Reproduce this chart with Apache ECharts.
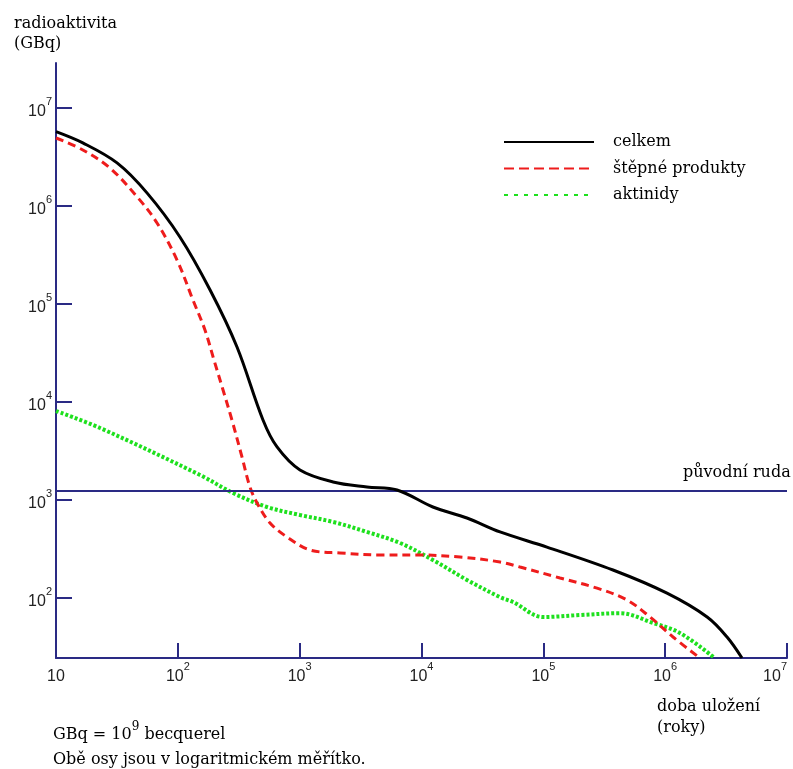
<!DOCTYPE html>
<html>
<head>
<meta charset="utf-8">
<script src="https://cdn.jsdelivr.net/npm/echarts@6/dist/echarts.min.js"></script>
<style>
html,body{margin:0;padding:0;background:#fff;}
#c{width:793px;height:769px;}
</style>
</head>
<body>
<div id="c"></div>
<script>
// ---- data (years, GBq) ----
const celkemX = [10, 16.6, 31.7, 55.8, 104, 184, 306, 500, 652, 1006, 1880, 3570, 6300, 12400, 23600, 44100, 107000, 373000, 1035000, 2210000, 3220000, 4270000];
const celkemY = [5730000, 4400000, 2750000, 1360000, 483000, 139000, 36400, 6550, 3475, 2024, 1527, 1357, 1265, 848, 655, 472, 331, 193, 112, 64, 40, 24.4];

const stepneX = [10, 16.6, 27.7, 47.1, 67.5, 98.5, 133, 167, 198, 235, 278, 336, 391, 447, 571, 787, 1216, 2140, 4830, 9190, 20700, 44100, 64400, 137000, 276000, 486000, 751000, 1160000, 1930000];
const stepneY = [4940000, 3730000, 2440000, 1210000, 671000, 281000, 110000, 54300, 26800, 13260, 6550, 2750, 1357, 932, 583, 419, 309, 288, 275, 275, 262, 233, 207, 160, 126, 95.4, 64, 40, 24.4];

const aktinidyX = [10, 23, 152, 284, 540, 1006, 1880, 3570, 6670, 12400, 23600, 44100, 56400, 99400, 200000, 426000, 795000, 1320000, 2550000];
const aktinidyY = [8090, 5430, 1800, 1178, 848, 703, 597, 472, 364, 244, 153, 102, 91, 64, 67, 70, 55.6, 44, 24.4];

const puvodniRuda = 1250;

const seriesNames = ['celkem', 'štěpné produkty', 'aktinidy'];

// tick values and labels (base 10 + superscript exponent)
const xTickValues = [10, 100, 1000, 10000, 100000, 1000000, 10000000];
const xTickExp = ['', '2', '3', '4', '5', '6', '7'];
const yTickValues = [100, 1000, 10000, 100000, 1000000, 10000000];
const yTickExp = ['2', '3', '4', '5', '6', '7'];

const zip = (xs, ys) => xs.map((x, i) => [x, ys[i]]);

const NAVY = '#2a2a84';
const SERIF = 'DejaVu Serif';
const SANS = 'Liberation Sans';

function makeFormatter(values, exps) {
  return function (v) {
    let idx = values.findIndex(t => Math.abs(Math.log10(t) - Math.log10(v)) < 1e-6);
    if (idx < 0) return '';
    const e = exps[idx];
    return e ? '{a|10}{b|' + e + '}' : '{a|10}';
  };
}
const richLabel = {
  a: { fontFamily: SANS, fontSize: 16, color: '#222', lineHeight: 24, verticalAlign: 'bottom' },
  b: { fontFamily: SANS, fontSize: 11, color: '#222', lineHeight: 12, verticalAlign: 'top' }
};

const chart = echarts.init(document.getElementById('c'), null, { renderer: 'canvas' });
chart.setOption({
  animation: false,
  backgroundColor: '#fff',
  grid: { left: 56, right: 6, top: 63, bottom: 111, containLabel: false, outerBoundsMode: 'none' },
  legend: {
    left: 503, top: 134, orient: 'vertical', padding: 0,
    itemWidth: 90, itemHeight: 14, itemGap: 10.5,
    itemStyle: { opacity: 0 },
    textStyle: { fontFamily: SERIF, fontSize: 16, color: '#000', padding: [0, 0, 0, 14] },
    data: [
      { name: seriesNames[0] },
      { name: seriesNames[1], lineStyle: { type: [10, 5] } },
      { name: seriesNames[2], lineStyle: { type: [4, 6] } }
    ]
  },
  xAxis: {
    type: 'log', logBase: 10, min: 10, max: 10000000,
    axisLine: { show: true, lineStyle: { color: NAVY, width: 2 } },
    axisTick: { show: true, inside: true, length: 15, lineStyle: { color: NAVY, width: 2 }, customValues: xTickValues.slice(1) },
    axisLabel: { margin: 3, customValues: xTickValues, alignMaxLabel: 'right', formatter: makeFormatter(xTickValues, xTickExp), rich: richLabel },
    splitLine: { show: false }
  },
  yAxis: {
    type: 'log', logBase: 10, min: 24.42, max: 28770000,
    axisLine: { show: true, lineStyle: { color: NAVY, width: 2 } },
    axisTick: { show: true, inside: true, length: 16, lineStyle: { color: NAVY, width: 2 }, customValues: yTickValues },
    axisLabel: { margin: 4, customValues: yTickValues, formatter: makeFormatter(yTickValues, yTickExp), rich: richLabel },
    splitLine: { show: false }
  },
  series: [
    {
      name: seriesNames[0], type: 'line', data: zip(celkemX, celkemY), smooth: 0.35,
      symbol: 'none', z: 5,
      lineStyle: { color: '#000', width: 3 }, itemStyle: { color: '#000' },
      markLine: {
        silent: true, symbol: 'none',
        lineStyle: { color: NAVY, width: 2, type: 'solid' },
        label: { show: false },
        data: [{ yAxis: puvodniRuda }]
      }
    },
    {
      name: seriesNames[1], type: 'line', data: zip(stepneX, stepneY), smooth: 0.35,
      symbol: 'none', z: 4,
      lineStyle: { color: '#ee1c1c', width: 3, type: [8, 5] }, itemStyle: { color: '#ee1c1c' }
    },
    {
      name: seriesNames[2], type: 'line', data: zip(aktinidyX, aktinidyY), smooth: 0.35,
      symbol: 'none', z: 3,
      lineStyle: { color: '#1ee01e', width: 4, type: [3, 2] }, itemStyle: { color: '#1ee01e' }
    }
  ],
  graphic: [
    { type: 'text', left: 14, top: 14, style: { text: 'radioaktivita\n(GBq)', font: '16px "DejaVu Serif"', fill: '#000', lineHeight: 20 } },
    { type: 'text', left: 683, top: 465, style: { text: 'původní ruda', font: '16px "DejaVu Serif"', fill: '#000' } },
    { type: 'text', left: 657, top: 696, style: { text: 'doba uložení\n(roky)', font: '16px "DejaVu Serif"', fill: '#000', lineHeight: 21 } },
    { type: 'text', left: 53, top: 721, style: {
        text: '{a|GBq = 10}{s|9}{a| becquerel}',
        rich: {
          a: { fontFamily: SERIF, fontSize: 16, color: '#000', lineHeight: 22, verticalAlign: 'bottom' },
          s: { fontFamily: SERIF, fontSize: 12, color: '#000', lineHeight: 12, verticalAlign: 'top' }
        }
      } },
    { type: 'text', left: 53, top: 752, style: { text: 'Obě osy jsou v logaritmickém měřítko.', font: '16px "DejaVu Serif"', fill: '#000' } }
  ]
});
</script>
</body>
</html>
